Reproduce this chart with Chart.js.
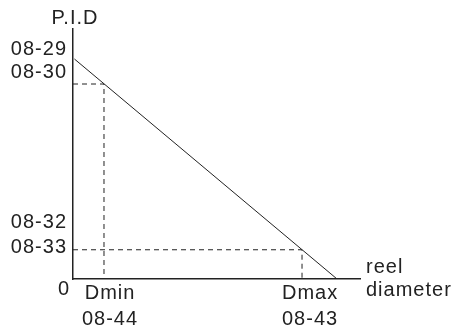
<!DOCTYPE html>
<html>
<head>
<meta charset="utf-8">
<script src="https://cdn.jsdelivr.net/npm/chart.js@4/dist/chart.umd.min.js"></script>
<style>
  html, body { margin: 0; padding: 0; background: #fff; }
  #wrap { width: 454px; height: 326px; }
</style>
</head>
<body>
<div id="wrap"><canvas id="pid" width="454" height="326"></canvas></div>
<script>
// axis ranges (arbitrary units)
const xRange = [0, 100];
const yRange = [0, 100];

// P.I.D vs reel diameter line
const pidLine = [
  { x: 0.5, y: 88 },
  { x: 92, y: 0 },
];
// guide to Dmin / 08-30
const dminGuide = [
  { x: 0, y: 78 },
  { x: 10.8, y: 78 },
  { x: 10.8, y: 0 },
];
// guide to Dmax / 08-33
const dmaxGuide = [
  { x: 0, y: 11.7 },
  { x: 79.8, y: 11.7 },
  { x: 79.8, y: 0 },
];

const yTickValues = [92, 82.8, 22.8, 12.6];
const yTickLabels = ["08-29", "08-30", "08-32", "08-33"];
const xTickValues = [12.9, 82.6];
const xTickLabels = [["Dmin", "08-44"], ["Dmax", "08-43"]];

const ink = "#222";
const fontFamily = "'Liberation Sans', Arial, sans-serif";

Chart.defaults.color = ink;
Chart.defaults.font.family = fontFamily;
Chart.defaults.font.size = 20;

const spacing = {
  id: "spacing",
  beforeLayout(chart) { chart.ctx.letterSpacing = "1px"; },
  beforeDraw(chart) { chart.ctx.letterSpacing = "1px"; },
};

// loose labels around the axes
const axisText = {
  id: "axisText",
  afterDraw(chart) {
    const { ctx, chartArea } = chart;
    ctx.save();
    ctx.letterSpacing = "1px";
    ctx.fillStyle = ink;
    ctx.font = "20px " + fontFamily;
    ctx.textAlign = "center";
    ctx.textBaseline = "alphabetic";
    ctx.fillText("P.I.D", chartArea.left + 2, 24);
    ctx.fillText("0", chartArea.left - 9, chartArea.bottom + 16);
    ctx.textAlign = "left";
    ctx.fillText("reel", chartArea.right + 6, chartArea.bottom - 6);
    ctx.fillText("diameter", chartArea.right + 6, chartArea.bottom + 17);
    ctx.restore();
  },
};

new Chart(document.getElementById("pid"), {
  type: "scatter",
  data: {
    datasets: [
      { data: pidLine, showLine: true, borderColor: ink, borderWidth: 1, pointRadius: 0 },
      { data: dminGuide, showLine: true, borderColor: ink, borderWidth: 1, borderDash: [5, 4], pointRadius: 0 },
      { data: dmaxGuide, showLine: true, borderColor: ink, borderWidth: 1, borderDash: [5, 4], pointRadius: 0 },
    ],
  },
  options: {
    responsive: false,
    animation: false,
    events: [],
    layout: { padding: { top: 29, right: 94, left: 0, bottom: 0 } },
    plugins: { legend: { display: false }, tooltip: { enabled: false } },
    scales: {
      x: {
        type: "linear",
        min: xRange[0],
        max: xRange[1],
        grid: { display: false, drawTicks: false },
        border: { display: true, color: ink, width: 1.5 },
        afterBuildTicks: (scale) => { scale.ticks = xTickValues.map((v) => ({ value: v })); },
        afterFit: (scale) => { scale.height = 47; },
        ticks: {
          autoSkip: false,
          maxRotation: 0,
          padding: 1,
          font: { size: 20, lineHeight: 1.3 },
          callback: (v, i) => xTickLabels[i],
        },
      },
      y: {
        type: "linear",
        min: yRange[0],
        max: yRange[1],
        grid: { display: false, drawTicks: false },
        border: { display: true, color: ink, width: 1.5 },
        afterBuildTicks: (scale) => { scale.ticks = yTickValues.map((v) => ({ value: v })); },
        afterFit: (scale) => { scale.width = 73; },
        ticks: {
          autoSkip: false,
          padding: 6,
          font: { size: 20 },
          callback: (v, i) => yTickLabels[i],
        },
      },
    },
  },
  plugins: [spacing, axisText],
});
</script>
</body>
</html>
